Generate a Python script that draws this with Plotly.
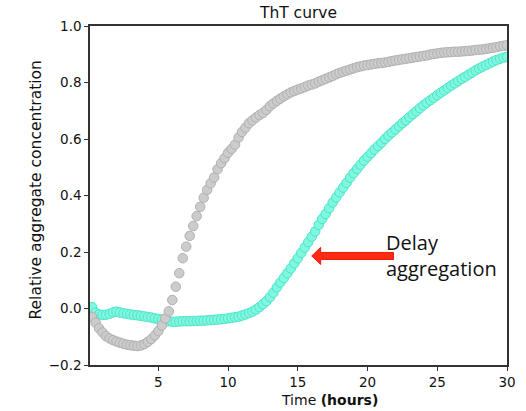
import plotly.graph_objects as go

time_hours = [0.25, 0.5, 0.75, 1.0, 1.25, 1.5, 1.75, 2.0, 2.25, 2.5, 2.75, 3.0,
              3.25, 3.5, 3.75, 4.0, 4.25, 4.5, 4.75, 5.0, 5.25, 5.5, 5.75, 6.0,
              6.25, 6.5, 6.75, 7.0, 7.25, 7.5, 7.75, 8.0, 8.25, 8.5, 8.75, 9.0,
              9.25, 9.5, 9.75, 10.0, 10.25, 10.5, 10.75, 11.0, 11.25, 11.5, 11.75, 12.0,
              12.25, 12.5, 12.75, 13.0, 13.25, 13.5, 13.75, 14.0, 14.25, 14.5, 14.75, 15.0,
              15.25, 15.5, 15.75, 16.0, 16.25, 16.5, 16.75, 17.0, 17.25, 17.5, 17.75, 18.0,
              18.25, 18.5, 18.75, 19.0, 19.25, 19.5, 19.75, 20.0, 20.25, 20.5, 20.75, 21.0,
              21.25, 21.5, 21.75, 22.0, 22.25, 22.5, 22.75, 23.0, 23.25, 23.5, 23.75, 24.0,
              24.25, 24.5, 24.75, 25.0, 25.25, 25.5, 25.75, 26.0, 26.25, 26.5, 26.75, 27.0,
              27.25, 27.5, 27.75, 28.0, 28.25, 28.5, 28.75, 29.0, 29.25, 29.5, 29.75, 30.0]

control_values = [-0.03, -0.05, -0.07, -0.085, -0.098, -0.106, -0.112, -0.117, -0.121, -0.125, -0.128, -0.130,
                  -0.132, -0.133, -0.131, -0.126, -0.118, -0.108, -0.095, -0.08, -0.06, -0.035, -0.01, 0.03,
                  0.077, 0.125, 0.178, 0.219, 0.257, 0.292, 0.327, 0.36, 0.392, 0.42, 0.443, 0.464,
                  0.493, 0.514, 0.532, 0.551, 0.565, 0.58, 0.605, 0.625, 0.64, 0.656, 0.666, 0.676,
                  0.685, 0.692, 0.703, 0.716, 0.726, 0.735, 0.743, 0.751, 0.758, 0.765, 0.77, 0.775,
                  0.779, 0.784, 0.789, 0.793, 0.797, 0.803, 0.808, 0.813, 0.818, 0.823, 0.829, 0.834,
                  0.838, 0.842, 0.846, 0.85, 0.854, 0.857, 0.86, 0.862, 0.864, 0.866, 0.868, 0.869,
                  0.871, 0.873, 0.876, 0.878, 0.88, 0.882, 0.884, 0.886, 0.888, 0.89, 0.892, 0.894,
                  0.896, 0.899, 0.901, 0.903, 0.905, 0.906, 0.907, 0.908, 0.909, 0.909, 0.91, 0.911,
                  0.912, 0.913, 0.915, 0.916, 0.917, 0.919, 0.921, 0.923, 0.925, 0.928, 0.93, 0.932]

inhibited_values = [0.005, -0.015, -0.021, -0.023, -0.022, -0.019, -0.014, -0.011, -0.014, -0.017, -0.019, -0.021,
                    -0.023, -0.024, -0.026, -0.028, -0.03, -0.032, -0.035, -0.037, -0.039, -0.041, -0.045, -0.047,
                    -0.047, -0.046, -0.045, -0.045, -0.045, -0.044, -0.044, -0.043, -0.043, -0.042, -0.041, -0.04,
                    -0.039, -0.038, -0.037, -0.035, -0.033, -0.031, -0.029, -0.025, -0.021, -0.016, -0.011, -0.004,
                    0.005, 0.015, 0.026, 0.04, 0.056, 0.075, 0.092, 0.108, 0.125, 0.142, 0.16, 0.178,
                    0.197, 0.216, 0.235, 0.254, 0.273, 0.296, 0.317, 0.335, 0.355, 0.375, 0.393, 0.411,
                    0.428, 0.445, 0.463, 0.479, 0.494, 0.509, 0.524, 0.537, 0.55, 0.563, 0.575, 0.587,
                    0.6, 0.612, 0.623, 0.634, 0.645, 0.656, 0.666, 0.677, 0.688, 0.698, 0.709, 0.719,
                    0.728, 0.737, 0.746, 0.755, 0.764, 0.772, 0.781, 0.789, 0.797, 0.805, 0.813, 0.82,
                    0.828, 0.835, 0.843, 0.85, 0.856, 0.862, 0.868, 0.874, 0.879, 0.884, 0.888, 0.891]

x_tick_vals = [5, 10, 15, 20, 25, 30]
y_tick_vals = [-0.2, 0.0, 0.2, 0.4, 0.6, 0.8, 1.0]
y_tick_text = ["\u22120.2", "0.0", "0.2", "0.4", "0.6", "0.8", "1.0"]

# arrow geometry (data units)
arrow_tip = (16.0, 0.186)
arrow_tail_x = 21.86
arrow_head_base_x = 16.64
arrow_shaft_half = 0.0124
arrow_head_half = 0.030

W, H = 526, 411
L, R, T, B = 90, 19, 26, 46
pw, ph = W - L - R, H - T - B

fig = go.Figure()
fig.add_trace(go.Scatter(
    x=time_hours, y=inhibited_values, mode="markers",
    marker=dict(size=9.5, color="#7ff8e0", line=dict(color="#4fe3c9", width=1)),
    showlegend=False))
fig.add_trace(go.Scatter(
    x=time_hours, y=control_values, mode="markers",
    marker=dict(size=9.5, color="#cccccc", line=dict(color="#b0b0b0", width=1)),
    showlegend=False))

tx, ty = arrow_tip
path = (f"M {tx},{ty} L {arrow_head_base_x},{ty + arrow_head_half} "
        f"L {arrow_head_base_x},{ty + arrow_shaft_half} L {arrow_tail_x},{ty + arrow_shaft_half} "
        f"L {arrow_tail_x},{ty - arrow_shaft_half} L {arrow_head_base_x},{ty - arrow_shaft_half} "
        f"L {arrow_head_base_x},{ty - arrow_head_half} Z")
fig.add_shape(type="path", path=path, xref="x", yref="y",
              fillcolor="#ff2a12", line=dict(color="#e81a08", width=1))

fig.add_annotation(x=21.2, y=0.235, xref="x", yref="y", text="Delay",
                   showarrow=False, xanchor="left", yanchor="middle",
                   font=dict(family="Open Sans", size=20, color="#111"))
fig.add_annotation(x=21.2, y=0.14, xref="x", yref="y", text="aggregation",
                   showarrow=False, xanchor="left", yanchor="middle",
                   font=dict(family="Open Sans", size=20, color="#111"))

# axis titles placed by page-pixel centre
fig.add_annotation(x=329, y=400, xref="paper", yref="paper", text="Time <b>(hours)</b>",
                   showarrow=False, xanchor="center", yanchor="middle",
                   font=dict(family="DejaVu Sans", size=14, color="#111"))
fig.add_annotation(x=35.5, y=190, xref="paper", yref="paper",
                   text="Relative aggregate concentration", textangle=-90,
                   showarrow=False, xanchor="center", yanchor="middle",
                   font=dict(family="DejaVu Sans", size=15.5, color="#111"))

for ann in fig.layout.annotations:
    if ann.xref == "paper":
        ann.x = (ann.x - L) / pw
        ann.y = (H - B - ann.y) / ph

fig.update_layout(
    width=W, height=H,
    margin=dict(l=L, r=R, t=T, b=B, autoexpand=False),
    paper_bgcolor="white", plot_bgcolor="white",
    title=dict(text="ThT curve", x=(L + pw / 2) / W, xanchor="center",
               y=1 - 12.5 / H, yanchor="middle",
               font=dict(family="DejaVu Sans", size=15.5, color="#111")),
    font=dict(family="DejaVu Sans", size=13.5, color="#111"),
)
fig.update_xaxes(range=[0.1, 30], tickvals=x_tick_vals, ticks="outside", ticklen=4,
                 tickcolor="#333", showline=True, linecolor="#333", linewidth=1.5,
                 mirror=True, showgrid=False, zeroline=False)
fig.update_yaxes(range=[-0.2, 1.0], tickvals=y_tick_vals, ticktext=y_tick_text,
                 ticks="outside", ticklen=4, tickcolor="#333", showline=True,
                 linecolor="#333", linewidth=1.5, mirror=True, showgrid=False, zeroline=False)

fig.write_html("out.html", config={"displayModeBar": False},
               post_script="document.body.style.margin='0';")
